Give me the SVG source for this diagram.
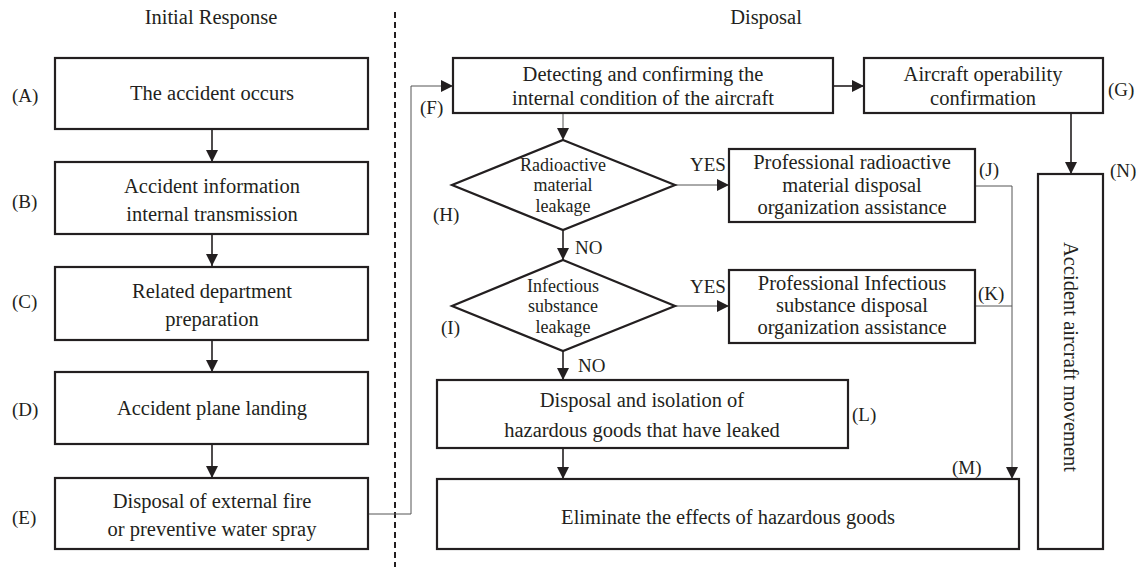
<svg xmlns="http://www.w3.org/2000/svg" width="1144" height="567" viewBox="0 0 1144 567" font-family="'Liberation Serif', 'DejaVu Serif', serif">
<style>
text{font-family:'Liberation Serif','DejaVu Serif',serif;fill:#231f20;}
.t{font-size:20.5px;text-anchor:middle;}
.d{font-size:18px;text-anchor:middle;}
.lb{font-size:19px;}
.h{font-size:20.5px;text-anchor:middle;}
.box{fill:#fff;stroke:#231f20;stroke-width:2.2;}
.c{fill:none;stroke:#231f20;stroke-width:1.6;}
.g{fill:none;stroke:#555;stroke-width:1;}
</style>
<defs>
<marker id="ah" viewBox="0 0 12 12" refX="12" refY="6" markerWidth="12" markerHeight="12" markerUnits="userSpaceOnUse" orient="auto">
<path d="M0,0 L12,6 L0,12 Z" fill="#231f20"/>
</marker>
</defs>
<text class="h" x="211" y="24">Initial Response</text>
<text class="h" x="766" y="24">Disposal</text>
<line x1="395" y1="12" x2="395" y2="567" stroke="#231f20" stroke-width="2" stroke-dasharray="6,4"/>
<g id="connectors">
<line class="c" x1="212" y1="129" x2="212" y2="162" marker-end="url(#ah)"/>
<line class="c" x1="212" y1="234" x2="212" y2="266" marker-end="url(#ah)"/>
<line class="c" x1="212" y1="340" x2="212" y2="372" marker-end="url(#ah)"/>
<line class="c" x1="212" y1="444" x2="212" y2="478" marker-end="url(#ah)"/>
<polyline class="g" points="368,514 411,514 411,86 453,86" marker-end="url(#ah)"/>
<line class="c" x1="833" y1="86" x2="864" y2="86" marker-end="url(#ah)"/>
<line class="c" x1="1071" y1="113" x2="1071" y2="174" marker-end="url(#ah)"/>
<line class="g" x1="563" y1="113" x2="563" y2="140" marker-end="url(#ah)"/>
<line class="g" x1="675" y1="185" x2="729" y2="185" marker-end="url(#ah)"/>
<line class="c" x1="563" y1="230" x2="563" y2="260" marker-end="url(#ah)"/>
<line class="g" x1="675" y1="306" x2="729" y2="306" marker-end="url(#ah)"/>
<line class="c" x1="563" y1="351" x2="563" y2="380" marker-end="url(#ah)"/>
<line class="c" x1="563" y1="448" x2="563" y2="479" marker-end="url(#ah)"/>
<polyline class="g" points="975,186 1012,186 1012,479" marker-end="url(#ah)"/>
<polyline class="g" points="975,306 1012,306"/>
<text class="lb" x="690" y="171">YES</text>
<text class="lb" x="690" y="293">YES</text>
<text class="lb" x="575" y="254">NO</text>
<text class="lb" x="578" y="372">NO</text>
</g>
<g id="A">
<rect class="box" x="55" y="58" width="313" height="71"/>
<text class="t" x="212" y="100">The accident occurs</text>
<text class="lb" x="12" y="102">(A)</text>
</g>
<g id="B">
<rect class="box" x="55" y="162" width="313" height="72"/>
<text class="t" x="212" y="193">Accident information</text>
<text class="t" x="212" y="221">internal transmission</text>
<text class="lb" x="12" y="208">(B)</text>
</g>
<g id="C">
<rect class="box" x="55" y="267" width="313" height="73"/>
<text class="t" x="212" y="298">Related department</text>
<text class="t" x="212" y="326">preparation</text>
<text class="lb" x="12" y="308">(C)</text>
</g>
<g id="D">
<rect class="box" x="55" y="372" width="313" height="72"/>
<text class="t" x="212" y="415">Accident plane landing</text>
<text class="lb" x="12" y="416">(D)</text>
</g>
<g id="E">
<rect class="box" x="55" y="478" width="313" height="71"/>
<text class="t" x="212" y="508">Disposal of external fire</text>
<text class="t" x="212" y="536">or preventive water spray</text>
<text class="lb" x="12" y="524">(E)</text>
</g>
<g id="F">
<rect class="box" x="453" y="58" width="380" height="55"/>
<text class="t" x="643" y="81">Detecting and confirming the</text>
<text class="t" x="643" y="105">internal condition of the aircraft</text>
<text class="lb" x="420" y="114">(F)</text>
</g>
<g id="G">
<rect class="box" x="864" y="58" width="239" height="55"/>
<text class="t" x="983" y="81">Aircraft operability</text>
<text class="t" x="983" y="105">confirmation</text>
<text class="lb" x="1108" y="96">(G)</text>
</g>
<g id="H">
<polygon class="box" points="563,140 675,185 563,230 452,185"/>
<text class="d" x="563" y="171">Radioactive</text>
<text class="d" x="563" y="191">material</text>
<text class="d" x="563" y="212">leakage</text>
<text class="lb" x="433" y="221">(H)</text>
</g>
<g id="I">
<polygon class="box" points="563,260 675,306 563,351 452,306"/>
<text class="d" x="563" y="292">Infectious</text>
<text class="d" x="563" y="312">substance</text>
<text class="d" x="563" y="333">leakage</text>
<text class="lb" x="441" y="334">(I)</text>
</g>
<g id="J">
<rect class="box" x="729" y="149" width="246" height="73"/>
<text class="t" x="852" y="169">Professional radioactive</text>
<text class="t" x="852" y="192">material disposal</text>
<text class="t" x="852" y="214">organization assistance</text>
<text class="lb" x="979" y="176">(J)</text>
</g>
<g id="K">
<rect class="box" x="729" y="270" width="246" height="73"/>
<text class="t" x="852" y="290">Professional Infectious</text>
<text class="t" x="852" y="312">substance disposal</text>
<text class="t" x="852" y="334">organization assistance</text>
<text class="lb" x="978" y="300">(K)</text>
</g>
<g id="L">
<rect class="box" x="437" y="380" width="411" height="68"/>
<text class="t" x="642" y="407">Disposal and isolation of</text>
<text class="t" x="642" y="437">hazardous goods that have leaked</text>
<text class="lb" x="852" y="421">(L)</text>
</g>
<g id="M">
<rect class="box" x="437" y="479" width="582" height="70"/>
<text class="t" x="728" y="524">Eliminate the effects of hazardous goods</text>
<text class="lb" x="952" y="474">(M)</text>
</g>
<g id="N">
<rect class="box" x="1038" y="174" width="65" height="375"/>
<text class="t" transform="translate(1064,357) rotate(90)" x="0" y="0">Accident aircraft movement</text>
<text class="lb" x="1110" y="177">(N)</text>
</g>
</svg>
